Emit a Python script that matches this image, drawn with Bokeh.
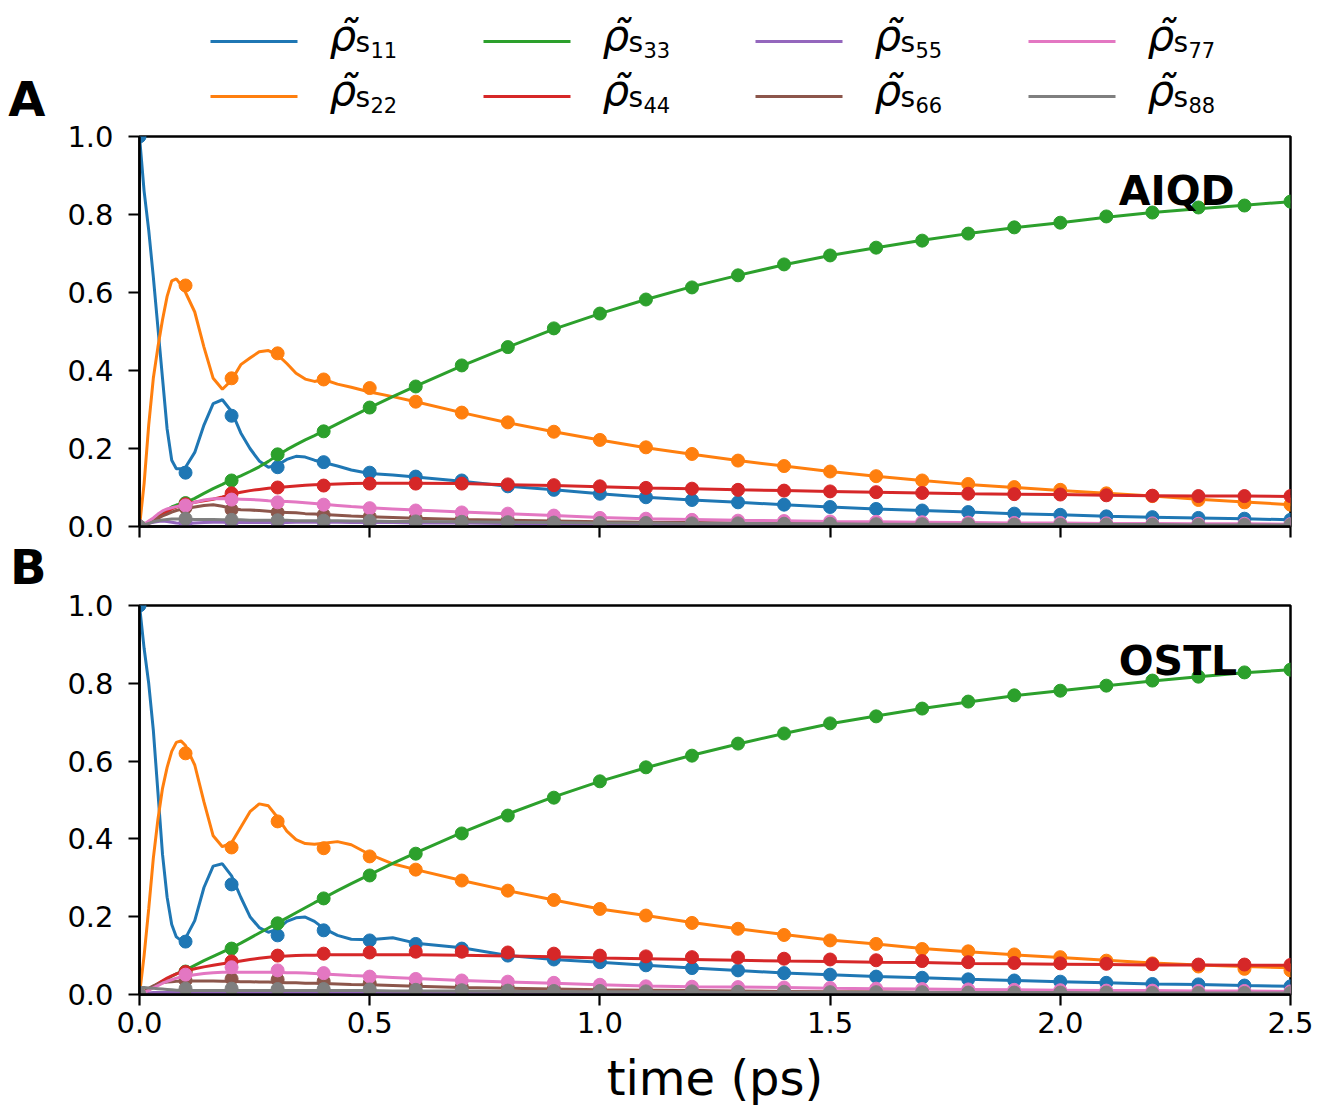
from bokeh.plotting import figure
from bokeh.layouts import column
from bokeh.models import Range1d, FixedTicker, PrintfTickFormatter, Label, LinearAxis
from bokeh.core.properties import value
from bokeh.embed import file_html
from bokeh.resources import INLINE

# ---------------- data ----------------
series_keys = ["11", "22", "33", "44", "55", "66", "77", "88"]
colors = ["#1f77b4", "#ff7f0e", "#2ca02c", "#d62728", "#9467bd", "#8c564b", "#e377c2", "#7f7f7f"]

t_line = [0.0, 0.01, 0.02, 0.03, 0.04, 0.05, 0.06, 0.07, 0.08, 0.09, 0.10,
          0.12, 0.14, 0.16, 0.18, 0.20, 0.22, 0.24, 0.26, 0.28, 0.30, 0.32, 0.34, 0.36, 0.38, 0.40,
          0.43, 0.46, 0.50, 0.55, 0.60, 0.70,
          0.8, 0.9, 1.0, 1.1, 1.2, 1.3, 1.4, 1.5, 1.6, 1.7, 1.8, 1.9, 2.0, 2.1, 2.2, 2.3, 2.4, 2.5]

t_dot = [0.0, 0.1, 0.2, 0.3, 0.4, 0.5, 0.6, 0.7, 0.8, 0.9, 1.0, 1.1, 1.2,
         1.3, 1.4, 1.5, 1.6, 1.7, 1.8, 1.9, 2.0, 2.1, 2.2, 2.3, 2.4, 2.5]

# Panel A (AIQD) - continuous curves
a_s11 = [1.0, 0.86, 0.76, 0.64, 0.51, 0.38, 0.25, 0.17, 0.148, 0.148, 0.152,
         0.19, 0.26, 0.315, 0.325, 0.295, 0.24, 0.20, 0.168, 0.152, 0.158, 0.172, 0.18, 0.178, 0.17, 0.164,
         0.155, 0.145, 0.136, 0.132, 0.127, 0.116,
         0.103, 0.094, 0.084, 0.075, 0.068, 0.062, 0.056, 0.050, 0.045, 0.041, 0.037, 0.033, 0.030, 0.026, 0.024, 0.022, 0.020, 0.017]
a_s22 = [0.0, 0.11, 0.26, 0.38, 0.46, 0.53, 0.59, 0.63, 0.635, 0.62, 0.60,
         0.55, 0.46, 0.38, 0.352, 0.375, 0.415, 0.432, 0.448, 0.451, 0.44, 0.418, 0.393, 0.378, 0.372, 0.377,
         0.365, 0.357, 0.345, 0.333, 0.32, 0.292,
         0.266, 0.243, 0.222, 0.202, 0.185, 0.169, 0.155, 0.141, 0.129, 0.118, 0.108, 0.100, 0.092, 0.085, 0.078, 0.070, 0.063, 0.056]
a_s33 = [0.0, 0.005, 0.012, 0.02, 0.028, 0.036, 0.043, 0.05, 0.055, 0.058, 0.062,
         0.072, 0.085, 0.097, 0.108, 0.12, 0.13, 0.141, 0.153, 0.167, 0.183, 0.197, 0.21, 0.222, 0.233, 0.245,
         0.263, 0.281, 0.305, 0.333, 0.36, 0.412,
         0.46, 0.506, 0.546, 0.582, 0.615, 0.644, 0.671, 0.695, 0.715, 0.734, 0.751, 0.766, 0.779, 0.793, 0.805, 0.815, 0.824, 0.833]
a_s44 = [0.0, 0.003, 0.008, 0.015, 0.022, 0.03, 0.038, 0.045, 0.05, 0.054, 0.057,
         0.062, 0.066, 0.07, 0.076, 0.083, 0.088, 0.092, 0.095, 0.098, 0.100, 0.102, 0.104, 0.106, 0.107, 0.108,
         0.109, 0.110, 0.111, 0.111, 0.111, 0.110,
         0.107, 0.105, 0.102, 0.099, 0.097, 0.094, 0.092, 0.090, 0.088, 0.086, 0.084, 0.083, 0.082, 0.080, 0.079, 0.078, 0.078, 0.077]
a_s55 = [0.0, 0.004, 0.008, 0.011, 0.013, 0.014, 0.013, 0.011, 0.009, 0.008, 0.008,
         0.009, 0.010, 0.011, 0.011, 0.010, 0.010, 0.010, 0.010, 0.010, 0.010, 0.010, 0.011, 0.011, 0.011, 0.011,
         0.011, 0.010, 0.010, 0.010, 0.009, 0.009,
         0.008, 0.008, 0.007, 0.007, 0.006, 0.006, 0.006, 0.005, 0.005, 0.005, 0.005, 0.004, 0.004, 0.004, 0.004, 0.004, 0.004, 0.004]
a_s66 = [0.0, 0.004, 0.009, 0.015, 0.021, 0.027, 0.032, 0.037, 0.041, 0.044, 0.046,
         0.050, 0.054, 0.056, 0.052, 0.046, 0.043, 0.042, 0.041, 0.039, 0.037, 0.036, 0.035, 0.033, 0.032, 0.031,
         0.029, 0.027, 0.025, 0.023, 0.021, 0.018,
         0.016, 0.014, 0.012, 0.011, 0.010, 0.009, 0.008, 0.008, 0.007, 0.007, 0.006, 0.006, 0.005, 0.005, 0.005, 0.005, 0.004, 0.004]
a_s77 = [0.0, 0.006, 0.014, 0.022, 0.032, 0.040, 0.045, 0.048, 0.051, 0.053, 0.055,
         0.062, 0.068, 0.071, 0.072, 0.071, 0.070, 0.069, 0.068, 0.066, 0.065, 0.064, 0.063, 0.061, 0.059, 0.057,
         0.054, 0.051, 0.048, 0.045, 0.042, 0.037,
         0.033, 0.028, 0.023, 0.020, 0.018, 0.016, 0.015, 0.013, 0.012, 0.011, 0.010, 0.009, 0.009, 0.008, 0.008, 0.007, 0.007, 0.006]
a_s88 = [0.0, 0.004, 0.008, 0.012, 0.015, 0.017, 0.018, 0.019, 0.019, 0.019, 0.019,
         0.018, 0.018, 0.018, 0.017, 0.017, 0.017, 0.016, 0.016, 0.016, 0.016, 0.016, 0.015, 0.015, 0.015, 0.015,
         0.015, 0.014, 0.014, 0.013, 0.013, 0.012,
         0.011, 0.010, 0.009, 0.009, 0.008, 0.008, 0.007, 0.007, 0.006, 0.006, 0.006, 0.005, 0.005, 0.005, 0.005, 0.004, 0.004, 0.004]

# Panel A - points
a_s11_pts = [1.0, 0.138, 0.284, 0.152, 0.165, 0.138, 0.128, 0.118, 0.103, 0.094, 0.084, 0.075, 0.068,
             0.062, 0.056, 0.050, 0.045, 0.041, 0.037, 0.033, 0.030, 0.026, 0.024, 0.022, 0.020, 0.017]
a_s22_pts = [0.0, 0.618, 0.380, 0.444, 0.377, 0.355, 0.320, 0.292, 0.267, 0.243, 0.222, 0.203, 0.186,
             0.169, 0.155, 0.141, 0.129, 0.118, 0.109, 0.101, 0.094, 0.085, 0.078, 0.068, 0.062, 0.056]
a_s33_pts = [0.0, 0.060, 0.118, 0.185, 0.244, 0.305, 0.359, 0.413, 0.460, 0.508, 0.546, 0.582, 0.613,
             0.644, 0.672, 0.695, 0.715, 0.733, 0.751, 0.767, 0.779, 0.795, 0.805, 0.818, 0.823, 0.833]
a_s44_pts = [0.0, 0.057, 0.085, 0.100, 0.105, 0.110, 0.110, 0.110, 0.108, 0.106, 0.103, 0.099, 0.097,
             0.094, 0.092, 0.090, 0.088, 0.086, 0.084, 0.083, 0.082, 0.080, 0.079, 0.078, 0.078, 0.078]
a_s55_pts = [0.0, 0.010, 0.010, 0.010, 0.011, 0.010, 0.009, 0.009, 0.008, 0.008, 0.007, 0.007, 0.006,
             0.006, 0.006, 0.005, 0.005, 0.005, 0.005, 0.004, 0.004, 0.004, 0.004, 0.004, 0.004, 0.004]
a_s66_pts = [0.0, 0.048, 0.043, 0.036, 0.030, 0.025, 0.021, 0.018, 0.016, 0.014, 0.012, 0.011, 0.010,
             0.009, 0.008, 0.008, 0.007, 0.007, 0.006, 0.006, 0.005, 0.005, 0.005, 0.005, 0.004, 0.004]
a_s77_pts = [0.0, 0.054, 0.069, 0.062, 0.056, 0.047, 0.041, 0.036, 0.033, 0.028, 0.022, 0.020, 0.017,
             0.015, 0.014, 0.013, 0.012, 0.011, 0.010, 0.009, 0.009, 0.008, 0.008, 0.007, 0.007, 0.006]
a_s88_pts = [0.0, 0.020, 0.017, 0.016, 0.015, 0.014, 0.013, 0.012, 0.011, 0.010, 0.009, 0.009, 0.008,
             0.008, 0.007, 0.007, 0.006, 0.006, 0.006, 0.005, 0.005, 0.005, 0.005, 0.004, 0.004, 0.004]

# Panel B (OSTL) - continuous curves
b_s11 = [1.0, 0.89, 0.80, 0.68, 0.52, 0.36, 0.25, 0.18, 0.148, 0.139, 0.145,
         0.19, 0.275, 0.33, 0.336, 0.305, 0.25, 0.20, 0.172, 0.16, 0.168, 0.188, 0.197, 0.199, 0.188, 0.17,
         0.152, 0.142, 0.141, 0.146, 0.132, 0.12,
         0.100, 0.090, 0.083, 0.075, 0.068, 0.062, 0.055, 0.051, 0.046, 0.043, 0.039, 0.036, 0.033, 0.030, 0.027, 0.026, 0.023, 0.021]
b_s22 = [0.0, 0.10, 0.22, 0.35, 0.45, 0.53, 0.584, 0.625, 0.648, 0.652, 0.64,
         0.59, 0.495, 0.408, 0.38, 0.39, 0.43, 0.47, 0.49, 0.485, 0.455, 0.42, 0.398, 0.388, 0.386, 0.389,
         0.393, 0.385, 0.36, 0.336, 0.321, 0.293,
         0.267, 0.243, 0.220, 0.203, 0.185, 0.169, 0.154, 0.140, 0.130, 0.118, 0.110, 0.102, 0.095, 0.088, 0.081, 0.076, 0.072, 0.069]
b_s33 = [0.0, 0.006, 0.013, 0.02, 0.027, 0.034, 0.04, 0.047, 0.053, 0.058, 0.063,
         0.075, 0.087, 0.098, 0.109, 0.12, 0.132, 0.145, 0.158, 0.171, 0.184, 0.197, 0.21, 0.223, 0.236, 0.248,
         0.267, 0.285, 0.308, 0.337, 0.364, 0.416,
         0.464, 0.508, 0.548, 0.583, 0.615, 0.644, 0.671, 0.696, 0.716, 0.735, 0.752, 0.768, 0.781, 0.794, 0.806, 0.817, 0.827, 0.835]
b_s44 = [0.0, 0.005, 0.012, 0.02, 0.028, 0.035, 0.042, 0.048, 0.053, 0.057, 0.06,
         0.066, 0.071, 0.075, 0.079, 0.082, 0.086, 0.09, 0.093, 0.096, 0.098, 0.099, 0.1, 0.101, 0.101, 0.102,
         0.102, 0.102, 0.102, 0.102, 0.102, 0.101,
         0.099, 0.097, 0.094, 0.092, 0.090, 0.088, 0.086, 0.085, 0.083, 0.082, 0.080, 0.079, 0.078, 0.077, 0.076, 0.076, 0.075, 0.075]
b_s55 = [0.0, 0.002, 0.004, 0.005, 0.005, 0.005, 0.005, 0.005, 0.005, 0.005, 0.005,
         0.005, 0.005, 0.005, 0.005, 0.005, 0.005, 0.005, 0.005, 0.005, 0.005, 0.005, 0.005, 0.005, 0.005, 0.005,
         0.005, 0.005, 0.005, 0.005, 0.005, 0.005,
         0.004, 0.004, 0.004, 0.004, 0.004, 0.004, 0.004, 0.003, 0.003, 0.003, 0.003, 0.003, 0.003, 0.003, 0.003, 0.003, 0.003, 0.003]
b_s66 = [0.0, 0.008, 0.016, 0.022, 0.027, 0.030, 0.032, 0.033, 0.034, 0.034, 0.035,
         0.035, 0.035, 0.035, 0.034, 0.034, 0.033, 0.033, 0.032, 0.032, 0.031, 0.030, 0.030, 0.029, 0.029, 0.028,
         0.027, 0.026, 0.025, 0.023, 0.021, 0.018,
         0.016, 0.014, 0.012, 0.011, 0.010, 0.009, 0.008, 0.007, 0.007, 0.006, 0.006, 0.005, 0.005, 0.005, 0.004, 0.004, 0.004, 0.004]
b_s77 = [0.0, 0.005, 0.011, 0.017, 0.023, 0.029, 0.034, 0.038, 0.042, 0.045, 0.047,
         0.051, 0.054, 0.056, 0.057, 0.057, 0.057, 0.057, 0.057, 0.057, 0.057, 0.056, 0.056, 0.055, 0.054, 0.053,
         0.051, 0.049, 0.047, 0.044, 0.041, 0.036,
         0.032, 0.029, 0.025, 0.022, 0.020, 0.019, 0.018, 0.016, 0.015, 0.014, 0.013, 0.012, 0.011, 0.010, 0.010, 0.009, 0.009, 0.008]
b_s88 = [0.018, 0.018, 0.017, 0.016, 0.015, 0.014, 0.013, 0.012, 0.011, 0.011, 0.010,
         0.010, 0.010, 0.010, 0.010, 0.010, 0.010, 0.010, 0.010, 0.010, 0.010, 0.010, 0.010, 0.010, 0.010, 0.010,
         0.010, 0.010, 0.010, 0.009, 0.009, 0.009,
         0.008, 0.008, 0.007, 0.007, 0.007, 0.006, 0.006, 0.006, 0.005, 0.005, 0.005, 0.005, 0.005, 0.004, 0.004, 0.004, 0.004, 0.004]

# Panel B - points
b_s11_pts = [1.0, 0.136, 0.283, 0.152, 0.165, 0.139, 0.130, 0.118, 0.100, 0.090, 0.083, 0.075, 0.068,
             0.062, 0.055, 0.051, 0.046, 0.043, 0.039, 0.036, 0.033, 0.030, 0.027, 0.026, 0.023, 0.021]
b_s22_pts = [0.0, 0.620, 0.378, 0.445, 0.376, 0.355, 0.321, 0.293, 0.267, 0.243, 0.220, 0.203, 0.184,
             0.169, 0.153, 0.139, 0.130, 0.117, 0.111, 0.103, 0.096, 0.087, 0.080, 0.072, 0.066, 0.062]
b_s33_pts = [0.0, 0.059, 0.118, 0.183, 0.247, 0.306, 0.362, 0.414, 0.460, 0.506, 0.548, 0.584, 0.614,
             0.645, 0.671, 0.697, 0.715, 0.735, 0.753, 0.769, 0.781, 0.794, 0.807, 0.817, 0.828, 0.835]
b_s44_pts = [0.0, 0.058, 0.085, 0.100, 0.105, 0.108, 0.110, 0.110, 0.108, 0.105, 0.100, 0.098, 0.096,
             0.095, 0.092, 0.090, 0.088, 0.086, 0.083, 0.081, 0.080, 0.079, 0.078, 0.077, 0.077, 0.076]
b_s55_pts = [0.0, 0.005, 0.005, 0.005, 0.005, 0.005, 0.005, 0.005, 0.004, 0.004, 0.004, 0.004, 0.004,
             0.004, 0.004, 0.003, 0.003, 0.003, 0.003, 0.003, 0.003, 0.003, 0.003, 0.003, 0.003, 0.003]
b_s66_pts = [0.0, 0.036, 0.040, 0.038, 0.034, 0.029, 0.024, 0.020, 0.017, 0.015, 0.013, 0.011, 0.010,
             0.009, 0.008, 0.007, 0.007, 0.006, 0.006, 0.005, 0.005, 0.005, 0.004, 0.004, 0.004, 0.004]
b_s77_pts = [0.0, 0.051, 0.070, 0.062, 0.055, 0.046, 0.040, 0.036, 0.033, 0.030, 0.025, 0.021, 0.020,
             0.019, 0.018, 0.017, 0.015, 0.014, 0.013, 0.012, 0.011, 0.010, 0.010, 0.009, 0.009, 0.008]
b_s88_pts = [0.0, 0.015, 0.015, 0.014, 0.014, 0.013, 0.012, 0.011, 0.010, 0.009, 0.009, 0.008, 0.008,
             0.007, 0.007, 0.006, 0.006, 0.006, 0.005, 0.005, 0.005, 0.005, 0.004, 0.004, 0.004, 0.004]

x_ticks = [0.0, 0.5, 1.0, 1.5, 2.0, 2.5]
y_ticks = [0.0, 0.2, 0.4, 0.6, 0.8, 1.0]
panel_letters = ["A", "B"]
panel_methods = ["AIQD", "OSTL"]

a_lines = [a_s11, a_s22, a_s33, a_s44, a_s55, a_s66, a_s77, a_s88]
a_pts = [a_s11_pts, a_s22_pts, a_s33_pts, a_s44_pts, a_s55_pts, a_s66_pts, a_s77_pts, a_s88_pts]
b_lines = [b_s11, b_s22, b_s33, b_s44, b_s55, b_s66, b_s77, b_s88]
b_pts = [b_s11_pts, b_s22_pts, b_s33_pts, b_s44_pts, b_s55_pts, b_s66_pts, b_s77_pts, b_s88_pts]

# ---------------- layout ----------------
W = 1338
FONT = "DejaVu Sans"
LEFT, RIGHT = 139, 48
FRAME_R = W - RIGHT


def style_axis(ax):
    ax.axis_line_width = 2.5
    ax.axis_line_color = "black"
    ax.major_tick_line_width = 2.2
    ax.major_tick_line_color = "black"
    ax.major_tick_out = 11
    ax.major_tick_in = 0
    ax.minor_tick_out = 0
    ax.minor_tick_in = 0
    ax.major_label_text_font = FONT
    ax.major_label_text_color = "black"
    ax.major_label_text_font_size = "29px"
    ax.formatter = PrintfTickFormatter(format="%.1f")


def make_panel(lines, pts, tag, tag_y, height, top, bottom, show_xlabels, margin_top):
    p = figure(width=W, height=height, x_range=Range1d(0, 2.5), y_range=Range1d(0, 1.0),
               output_backend="svg", toolbar_location=None,
               min_border_left=LEFT, min_border_right=RIGHT,
               min_border_top=top, min_border_bottom=bottom,
               margin=(margin_top, 0, 0, 0))
    p.grid.visible = False
    p.background_fill_color = "white"
    p.border_fill_color = None
    p.outline_line_color = "black"
    p.outline_line_width = 2.5
    p.outline_line_alpha = 1.0
    style_axis(p.xaxis[0])
    style_axis(p.yaxis[0])
    p.xaxis[0].ticker = FixedTicker(ticks=x_ticks)
    p.yaxis[0].ticker = FixedTicker(ticks=y_ticks)
    p.yaxis[0].major_label_standoff = 15
    if show_xlabels:
        p.xaxis[0].major_label_standoff = 6
        p.xaxis[0].axis_label = "time (ps)"
        p.xaxis[0].axis_label_text_font = FONT
        p.xaxis[0].axis_label_text_font_size = "48px"
        p.xaxis[0].axis_label_text_font_style = "normal"
        p.xaxis[0].axis_label_text_color = "black"
        p.xaxis[0].axis_label_standoff = 14
    else:
        p.xaxis[0].major_label_overrides = {t: "" for t in x_ticks}
        p.xaxis[0].major_label_text_font_size = "2px"
        p.xaxis[0].major_label_standoff = 0
    for yl, yp, c in zip(lines, pts, colors):
        p.line(t_line, yl, line_color=c, line_width=3.0)
        p.scatter(t_dot, yp, marker="circle", size=13, fill_color=c, line_color=c, line_width=1)
    p.add_layout(Label(x=2.127, y=tag_y, text=tag, text_font=FONT, text_font_size="41px",
                       text_font_style="bold", text_color="black", text_baseline="middle"))
    return p


def blank(height, margin_top):
    # x data units == page pixels (frame spans LEFT..FRAME_R), y data units == pixels from canvas top
    f = figure(width=W, height=height, x_range=Range1d(LEFT, FRAME_R), y_range=Range1d(height, 0),
               output_backend="svg", toolbar_location=None,
               min_border_left=LEFT, min_border_right=RIGHT, min_border_top=0, min_border_bottom=0,
               x_axis_type=None, y_axis_type=None, margin=(margin_top, 0, 0, 0))
    f.grid.visible = False
    f.outline_line_color = None
    f.background_fill_color = None
    f.border_fill_color = None
    return f


def add_letter(f, letter, yc, standoff):
    # the panel letter is drawn as the single tick label of a bare left axis
    ax = LinearAxis(ticker=FixedTicker(ticks=[yc]), major_label_overrides={yc: letter})
    ax.axis_line_color = None
    ax.major_tick_line_color = None
    ax.minor_tick_line_color = None
    ax.major_tick_out = 0
    ax.major_tick_in = 0
    ax.minor_tick_out = 0
    ax.minor_tick_in = 0
    ax.major_label_standoff = standoff
    ax.major_label_text_font = FONT
    ax.major_label_text_font_size = "48px"
    ax.major_label_text_font_style = "bold"
    ax.major_label_text_color = "black"
    f.add_layout(ax, "left")


# Legend strip with panel tag "A"   (page rows 0..128)
LEG_H = 128
leg = blank(LEG_H, 0)
col_x = [210, 483, 755, 1028]
row_y = [41, 96]
for i, (k, c) in enumerate(zip(series_keys, colors)):
    cx = col_x[i // 2]
    ry = row_y[i % 2]
    leg.segment(x0=[cx], y0=[ry], x1=[cx + 87], y1=[ry], line_color=c, line_width=3)
    tx = cx + 119
    leg.text(x=[tx], y=[ry - 6], text=["\u03c1\u0303"], text_font=value(FONT), text_font_size="42px",
             text_font_style="italic", text_baseline="middle", text_color="black")
    leg.text(x=[tx + 26], y=[ry + 1], text=["s"], text_font=value(FONT), text_font_size="28px",
             text_baseline="middle", text_color="black")
    leg.text(x=[tx + 41], y=[ry + 8], text=[k], text_font=value(FONT), text_font_size="21px",
             text_baseline="middle", text_color="black")
add_letter(leg, panel_letters[0], 98.5, 94)

# Panel A   (page rows 117..545, frame 136..526) - overlaps the legend canvas by 11 px
pA = make_panel(a_lines, a_pts, panel_methods[0], 0.861, 428, 19, 19, False, -11)

# Strip with panel tag "B"   (page rows 535..600)
STRIP_H = 65
strip = blank(STRIP_H, -10)
add_letter(strip, panel_letters[1], 31.5, 93)

# Panel B   (page rows 587..1112, frame 605..994)
pB = make_panel(b_lines, b_pts, panel_methods[1], 0.858, 525, 18, 118, True, -13)

layout = column(leg, pA, strip, pB, spacing=0)

open("out.html", "w").write(file_html(layout, INLINE))
